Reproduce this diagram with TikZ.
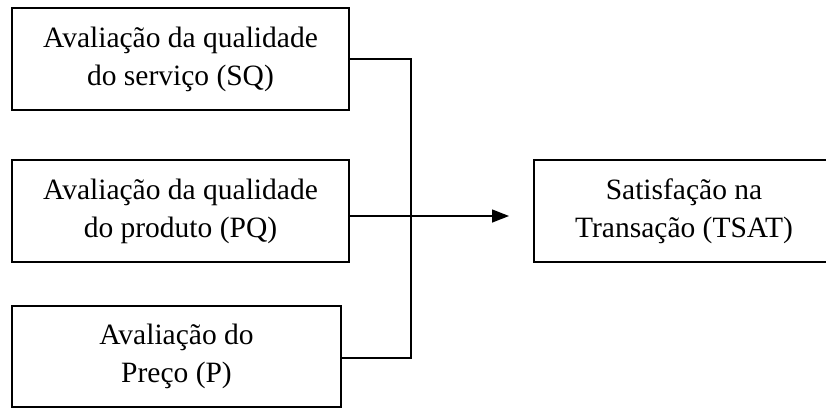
\documentclass[tikz,border=0pt]{standalone}
\usepackage{fontspec}
\setmainfont{Liberation Serif}
\usetikzlibrary{arrows.meta}
\begin{document}
\begin{tikzpicture}[x=1pt,y=-1pt,
  box/.style={draw,line width=1.4pt,rectangle,inner sep=0pt,align=center,
    font=\fontsize{29.5}{38}\selectfont},
  conn/.style={line width=1.4pt}]
\useasboundingbox (0,0) rectangle (826,408);
\clip (0,0) rectangle (826,408);
\node[box,minimum width=337pt,minimum height=102pt] (b1) at (180.5,59) {Avaliação da qualidade\\do serviço (SQ)};
\node[box,minimum width=337pt,minimum height=102pt] (b2) at (180.5,211) {Avaliação da qualidade\\do produto (PQ)};
\node[box,minimum width=329pt,minimum height=101pt] (b3) at (176.5,356.5) {Avaliação do\\Preço (P)};
\node[box,minimum width=300pt,minimum height=102pt] (b4) at (684,211) {Satisfação na\\Transação (TSAT)};
\coordinate (j1) at (411,59);
\coordinate (j3) at (411,358);
\coordinate (tip) at (509,216);
\draw[conn] (b1.east) -- (j1) -- (j3) -- (b3.east |- j3);
\draw[conn,-{Triangle[length=17pt,width=13pt]}] ([yshift=-5pt]b2.east) -- (tip);
\end{tikzpicture}
\end{document}
